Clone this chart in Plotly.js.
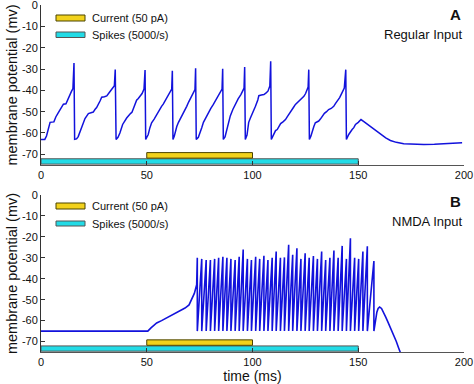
<!DOCTYPE html>
<html>
<head>
<meta charset="utf-8">
<script src="https://cdn.plot.ly/plotly-3.0.1.min.js"></script>
<style>html,body{margin:0;padding:0;background:#fff;}#chart{width:474px;height:384px;}</style>
</head>
<body>
<div id="chart"></div>
<script>
// ---- Panel A: Regular Input ----
const tA = [0, 1.8, 2.6, 3.4, 4.3, 6.1, 7.0, 8.2, 9.4, 10.6, 11.8, 12.8, 13.7, 14.4, 15.1, 15.6, 15.9,
  16.8, 17.6, 18.4, 19.6, 20.8, 22.4, 23.5, 24.7, 25.5, 26.3, 27.9, 28.7, 30, 31.1, 32.3, 33.4, 34.7, 35.1, 35.5,
  36.4, 37.3, 38.6, 39.5, 40.5, 42.4, 43.0, 43.7, 44.4, 45.2, 46.0, 46.8, 47.8, 48.7, 49.2, 49.5,
  50.2, 50.7, 51.5, 52.3, 53.5, 54.7, 56, 57, 57.8, 58.6, 59.7, 60.7, 61.8, 62.1, 62.4,
  63.0, 63.4, 64.2, 65.0, 66.0, 66.8, 67.9, 68.9, 69.8, 70.8, 72.0, 72.8, 73.1, 73.4,
  74.4, 75.2, 76.0, 76.8, 78.0, 79.1, 80.3, 81.5, 82.2, 83.0, 84.0, 85.0, 85.6, 85.9, 86.2,
  87.0, 87.5, 88.5, 89.5, 90.7, 92.0, 93.2, 94.5, 95.3, 96.0, 96.3, 96.6,
  97.4, 98.2, 99.0, 99.8, 100.6, 101.4, 102.5, 103.0, 104.2, 105.4, 106.3, 107.3, 108.2, 108.6, 108.9,
  110.1, 110.9, 111.7, 112.5, 113.3, 114.4, 115.6, 116.4, 117.2, 118.0, 118.8, 119.5, 120.3, 121.1, 121.9, 123.1, 124.3, 125.1, 125.8, 126.3, 126.6, 126.9,
  127.6, 128.2, 129.0, 129.7, 130.5, 131.3, 132.1, 132.9, 134.0, 135.0, 136.0, 137.2, 138.4, 139.2, 140.0, 141.2, 142.3, 143.4, 144.1, 144.4,
  145.5, 146.3, 147.1, 147.9, 148.7, 150.0, 151.3, 152.5, 154.0, 155.7, 158.0, 160.5, 163.0, 165.2, 168.0, 171.5, 176, 181, 186, 190.4, 195, 199.1];
const vA = [-63, -63, -61.4, -58.5, -55, -54.8, -52.5, -50.5, -48.5, -46.5, -46.3, -43.8, -41.3, -40.5, -39.2, -27.2, -63,
  -62.8, -61.7, -59.4, -56.2, -53.2, -50.9, -50.5, -50.2, -49, -48.1, -45, -43.2, -43, -42.6, -41, -39.7, -37.8, -30.2, -63,
  -62, -60, -56, -54.3, -53, -50.8, -50.3, -48.5, -46.2, -44.6, -43.8, -43, -41.5, -39.4, -30.5, -63,
  -62, -60.7, -57.5, -55.2, -53.5, -51.3, -49.2, -47.5, -46.5, -45.1, -43, -41.2, -39.4, -30.8, -63,
  -61.5, -59.9, -57, -55, -53.2, -51.3, -49.3, -47.5, -45.5, -43.5, -41.2, -39.6, -29.6, -63,
  -62, -60, -57.5, -55, -52.5, -50.5, -48.5, -46.6, -45.3, -43.5, -42, -40.4, -39.4, -29.9, -63,
  -61.8, -60, -55.5, -52, -49, -46, -44, -42, -40.5, -39, -29.1, -63,
  -61, -55, -53, -51.3, -49.2, -47.5, -44.5, -42.5, -42.2, -42, -41.3, -40.4, -38, -26.4, -63,
  -60, -58.9, -58.4, -57.2, -55.6, -54.8, -53.7, -52.4, -51.3, -50.4, -49, -47.8, -46.6, -45.9, -45.1, -44, -42.8, -41.5, -39.7, -38.5, -30.3, -63,
  -61.5, -59.1, -57, -55.2, -54.8, -54.4, -53.5, -52.3, -50.8, -50, -49, -48.5, -47.5, -46.2, -45.1, -43.4, -41.2, -38.9, -30.3, -63,
  -60.7, -59.3, -58.4, -57.5, -56, -55, -53.7, -54.6, -55.7, -56.8, -58.9, -60.7, -62.3, -63.5, -64.4, -65, -65.3, -65.4, -65.3, -65, -64.8, -64.6];

// ---- Panel B: NMDA Input ----
const tB_pre = [0, 50.5, 52, 54.7, 57, 59.4, 62, 64.1, 66, 68.1, 70, 71.2, 72.5, 73.6];
const vB_pre = [-65, -65, -63.5, -61.1, -60, -58.7, -57.4, -56.3, -55.3, -54, -52.5, -50, -47, -42.9];
const spikeTimesB = [73.9, 76.0, 78.1, 80.1, 82.1, 84.0, 86.0, 87.9, 89.8, 91.8, 93.7, 95.6, 97.6, 99.5, 101.5,
  103.4, 105.4, 107.3, 109.3, 111.2, 113.2, 115.1, 117.1, 119.0, 121.0, 122.9, 124.9, 126.8, 128.8, 130.7,
  132.7, 134.6, 136.6, 138.5, 140.5, 142.4, 144.4, 146.3, 148.3, 150.2, 152.2, 154.3, 157.4];
const spikePeaksB = [-30, -30.5, -31, -31, -30.5, -30, -29.5, -30, -30.5, -31, -29.5, -26, -30.5, -31, -29.5,
  -30.5, -29, -31, -30, -27, -30, -29.8, -23.8, -28.5, -25.4, -30.5, -27.8, -30, -29.1, -30.5,
  -27, -31, -30, -26.5, -30, -24.3, -30.5, -20.6, -30, -30.5, -27, -24.5, -31.5];
const resetV = -65;
const tB_post = [158.2, 158.8, 159.4, 160.1, 161, 162, 163, 164, 165, 166, 167, 168, 169, 170];
const vB_post = [-59, -56, -54.2, -53.5, -54.2, -56, -58.3, -60.6, -62.8, -65, -67.5, -70, -72.8, -75.5];

// ---- stimulus bars ----
const currentStart = 50, currentEnd = 100;   // Current (50 pA)
const spikesStart = 0, spikesEnd = 150;      // Spikes (5000/s)
const currentBand = [-69.2, -71.8];
const spikesBand = [-72.1, -74.6];

const xTicks = [0, 50, 100, 150, 200];
const xTickText = ["0", "50", "100", "150", "200"];
const yTicks = [0, -10, -20, -30, -40, -50, -60, -70];
const yTickText = ["0", "-10", "-20", "-30", "-40", "-50", "-60", "-70"];

const legendLabels = ["Current (50 pA)", "Spikes (5000/s)"];
const panelLetters = ["A", "B"];
const panelTitles = ["Regular Input", "NMDA Input"];

// build NMDA trace
const tB = tB_pre.slice(), vB = vB_pre.slice();
spikeTimesB.forEach((t, i) => { tB.push(t, t); vB.push(spikePeaksB[i], resetV); });
tB_post.forEach((t, i) => { tB.push(t); vB.push(vB_post[i]); });

const lineColor = '#1212dc';
const yellow = '#f2d21c', cyan = '#22dbe6';

function bars(xa, ya) {
  return [
    {type: 'bar', orientation: 'h', xaxis: xa, yaxis: ya, showlegend: false, hoverinfo: 'skip',
     y: [(spikesBand[0] + spikesBand[1]) / 2], base: [spikesStart], x: [spikesEnd - spikesStart],
     width: [spikesBand[0] - spikesBand[1]],
     marker: {color: cyan, line: {color: '#555555', width: 1}}},
    {type: 'bar', orientation: 'h', xaxis: xa, yaxis: ya, showlegend: false, hoverinfo: 'skip',
     y: [(currentBand[0] + currentBand[1]) / 2], base: [currentStart], x: [currentEnd - currentStart],
     width: [currentBand[0] - currentBand[1]],
     marker: {color: yellow, line: {color: '#4a4400', width: 1}}}
  ];
}

const data = [
  ...bars('x', 'y'),
  ...bars('x2', 'y2'),
  {type: 'scatter', mode: 'lines', x: tA, y: vA, xaxis: 'x', yaxis: 'y', showlegend: false,
   line: {color: lineColor, width: 1.5}},
  {type: 'scatter', mode: 'lines', x: tB, y: vB, xaxis: 'x2', yaxis: 'y2', showlegend: false,
   line: {color: lineColor, width: 1.6}}
];

const font = {family: 'Liberation Sans, Arial, sans-serif', size: 11, color: '#111'};
function xax(anchor, title) {
  const a = {domain: [0, 1], range: [0, 200], anchor: anchor, tickvals: xTicks, ticktext: xTickText,
    showline: true, linecolor: '#555', linewidth: 1, ticks: 'inside', ticklen: 4, tickcolor: '#333',
    showgrid: false, zeroline: false, fixedrange: true, tickfont: font, ticklabeloverflow: 'allow'};
  if (title) a.title = {text: title, font: {family: font.family, size: 14, color: '#111'}, standoff: 4};
  return a;
}
function yax(anchor, domain) {
  return {domain: domain, range: [-75, 0.02], anchor: anchor, tickvals: yTicks, ticktext: yTickText,
    showline: true, linecolor: '#333', linewidth: 1, ticks: 'inside', ticklen: 4, tickcolor: '#333',
    showgrid: false, zeroline: false, fixedrange: true, tickfont: font, ticklabeloverflow: 'allow',
    title: {text: 'membrane potential (mv)', font: {family: font.family, size: 14.5, color: '#111'}, standoff: 0}};
}

// pixel helpers for decorations (plot area: x 41..464, y 5..352)
const px = x => (x - 41) / 423;
const py = y => (352 - y) / 347;

const shapes = [], annotations = [];
[[15, 21, 32, 37.5], [203, 209, 221, 226]].forEach(r => {
  shapes.push({type: 'rect', xref: 'paper', yref: 'paper', x0: px(56), x1: px(85), y0: py(r[0]), y1: py(r[1]),
    fillcolor: yellow, line: {color: '#4a4400', width: 1}});
  shapes.push({type: 'rect', xref: 'paper', yref: 'paper', x0: px(56), x1: px(85), y0: py(r[2]), y1: py(r[3]),
    fillcolor: cyan, line: {color: '#555555', width: 1}});
  annotations.push({xref: 'paper', yref: 'paper', x: px(90), y: py((r[0] + r[1]) / 2), xanchor: 'left', yanchor: 'middle',
    text: legendLabels[0], showarrow: false, font: font});
  annotations.push({xref: 'paper', yref: 'paper', x: px(90), y: py((r[2] + r[3]) / 2), xanchor: 'left', yanchor: 'middle',
    text: legendLabels[1], showarrow: false, font: font});
});
[[14, 34.5], [201, 221]].forEach((r, i) => {
  annotations.push({xref: 'paper', yref: 'paper', x: px(463), y: py(r[0]), xanchor: 'right', yanchor: 'middle',
    text: '<b>' + panelLetters[i] + '</b>', showarrow: false, font: {family: font.family, size: 15, color: '#111'}});
  annotations.push({xref: 'paper', yref: 'paper', x: px(464), y: py(r[1]), xanchor: 'right', yanchor: 'middle',
    text: panelTitles[i], showarrow: false, font: {family: font.family, size: 13, color: '#111'}});
});

const layout = {
  width: 474, height: 384, margin: {l: 41, r: 10, t: 5, b: 32},
  paper_bgcolor: '#fff', plot_bgcolor: '#fff', font: font, showlegend: false, barmode: 'overlay',
  xaxis: xax('y'), yaxis: yax('x', [0.539, 1]),
  xaxis2: xax('y2', 'time (ms)'), yaxis2: yax('x2', [0, 0.4524]),
  shapes: shapes, annotations: annotations
};
Plotly.newPlot('chart', data, layout, {displayModeBar: false, staticPlot: true});
</script>
</body>
</html>
